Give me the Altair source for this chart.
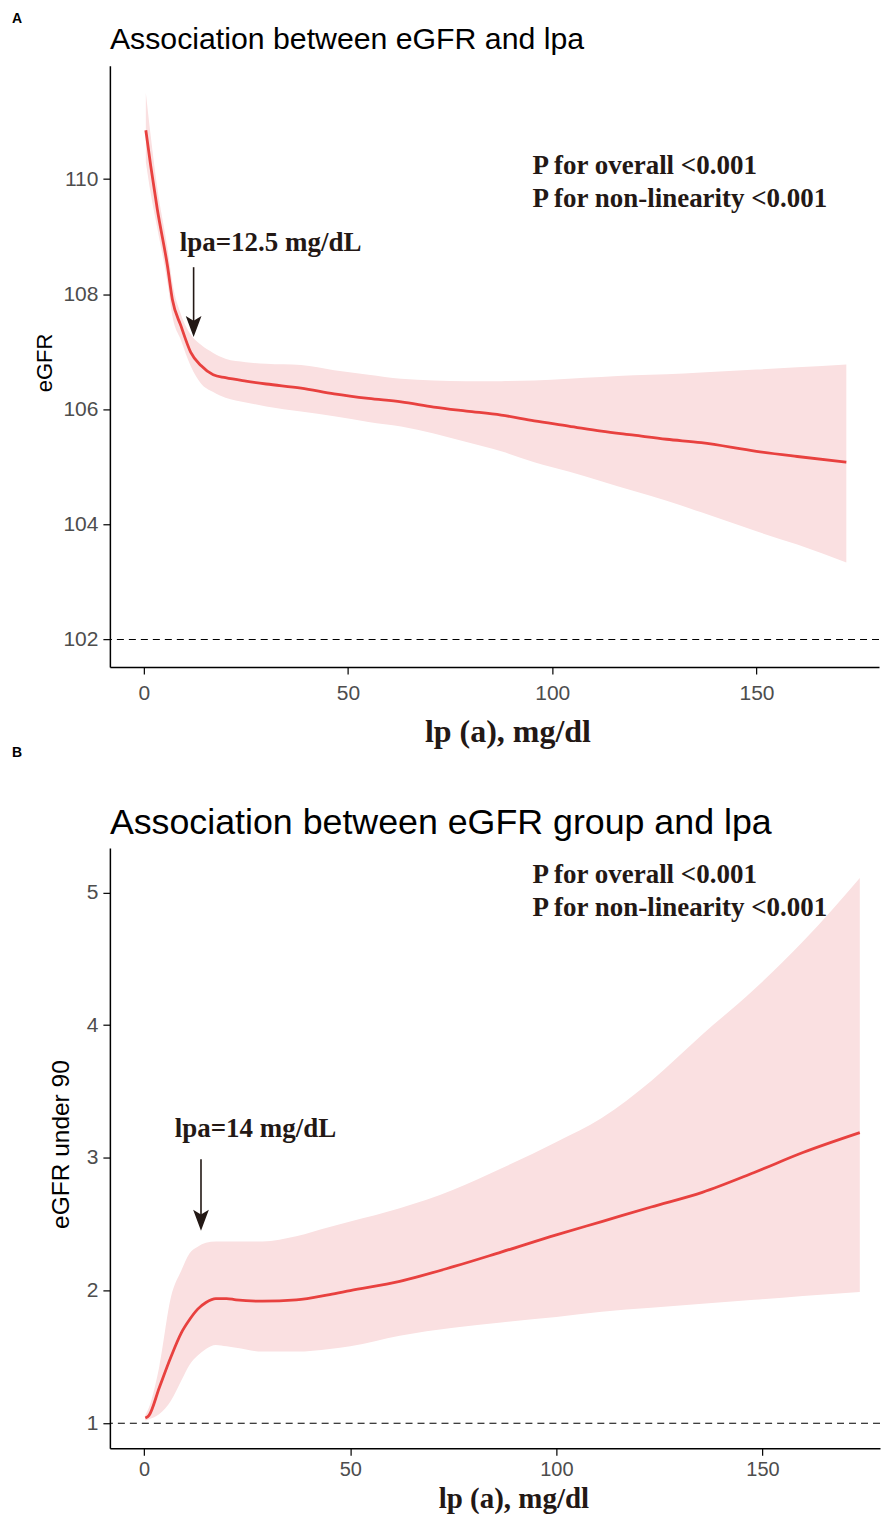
import altair as alt
import pandas as pd

# ---------------- Panel A: eGFR vs lp(a) ----------------
a_x = [0.5, 1.7, 3.3, 5.8, 7.0, 9.1, 11.5, 14, 17, 20, 25, 30, 38.5, 46.6, 55, 63, 71, 79,
       87.5, 95.6, 104, 112, 120, 128, 136.5, 150, 160, 172]
a_fit = [110.85, 110.23, 109.48, 108.49, 107.91, 107.45, 106.99, 106.76, 106.60, 106.55, 106.49,
         106.44, 106.37, 106.27, 106.19, 106.13, 106.04, 105.97, 105.90, 105.80, 105.71, 105.62,
         105.55, 105.48, 105.42, 105.27, 105.18, 105.08]
a_hi = [111.5, 110.75, 109.85, 108.8, 108.2, 107.65, 107.3, 107.12, 106.98, 106.88, 106.82,
        106.79, 106.77, 106.68, 106.6, 106.53, 106.5, 106.49, 106.49, 106.5, 106.53, 106.56,
        106.59, 106.61, 106.64, 106.69, 106.73, 106.78]
a_lo = [110.3, 109.75, 109.15, 108.2, 107.62, 107.2, 106.75, 106.45, 106.3, 106.2, 106.12,
        106.05, 105.96, 105.88, 105.78, 105.70, 105.58, 105.43, 105.27, 105.08, 104.92, 104.75,
        104.58, 104.41, 104.21, 103.88, 103.65, 103.34]
a_ref = 102
a_xdom = [-8.3, 180.0]
a_ydom = [101.52, 111.97]
a_yticks = [102, 104, 106, 108, 110]
a_arrow = {"x": [12.2], "top": [108.47], "head": [107.44]}

# ---------------- Panel B: eGFR group vs lp(a) ----------------
b_x = [0.3, 1.2, 3.7, 6.5, 9, 11, 13, 15, 17.4, 20, 22.3, 28.7, 36.9, 45, 50, 62, 75, 86.6,
       100, 111, 123, 135.4, 148, 159.8, 173.6]
b_fit = [1.04, 1.06, 1.27, 1.50, 1.68, 1.78, 1.86, 1.91, 1.94, 1.94, 1.93, 1.92, 1.93, 1.97,
         2.00, 2.07, 2.18, 2.29, 2.42, 2.52, 2.63, 2.74, 2.89, 3.04, 3.19]
b_hi = [1.06, 1.12, 1.43, 1.95, 2.15, 2.28, 2.33, 2.36, 2.37, 2.37, 2.37, 2.37, 2.41, 2.48,
        2.52, 2.62, 2.76, 2.92, 3.12, 3.30, 3.58, 3.93, 4.27, 4.63, 5.11]
b_lo = [1.02, 1.03, 1.07, 1.17, 1.32, 1.44, 1.51, 1.56, 1.59, 1.58, 1.57, 1.54, 1.54, 1.56,
        1.58, 1.66, 1.72, 1.76, 1.80, 1.84, 1.87, 1.90, 1.93, 1.96, 1.99]
b_ref = 1
b_xdom = [-8.3, 178.5]
b_ydom = [0.812, 5.336]
b_yticks = [1, 2, 3, 4, 5]
b_arrow = {"x": [13.8], "top": [2.99], "head": [2.53]}

x_ticks = [0, 50, 100, 150]

LINE = "#e8413f"
BAND = "#fae0e1"
INK = "#231815"
SANS = "Liberation Sans, Arial, Helvetica, sans-serif"
SERIF = "Liberation Serif, Times New Roman, serif"
HEAD = "M0,1L-0.75,-1L0,-0.55L0.75,-1Z"


def txt(text, px, py, font, size, weight="normal", color="black", align="left"):
    return alt.Chart(pd.DataFrame({"a": [0]})).mark_text(
        text=text, font=font, fontSize=size, fontWeight=weight, color=color,
        align=align, baseline="alphabetic"
    ).encode(x=alt.value(px), y=alt.value(py))


def panel(x, fit, lo, hi, ref, xdom, ydom, yticks, arrow, w, h,
          ytitle, ytitle_size, ytitle_x, xtitle_x, xtitle_y, xtitle_size, xlab_pad, xlab_size,
          label, title, title_size, title_y, label_y,
          lpa_text, lpa_pos, p_pos):
    df = pd.DataFrame({"x": x, "fit": fit, "lo": lo, "hi": hi})
    xs = alt.Scale(domain=xdom, nice=False, zero=False)
    ys = alt.Scale(domain=ydom, nice=False, zero=False)
    xaxis = alt.Axis(values=x_ticks, format="d", title="lp (a), mg/dl", titleFont=SERIF,
                     titleFontWeight="bold", titleFontSize=xtitle_size, titleColor=INK,
                     titleX=xtitle_x, titleY=xtitle_y, titleBaseline="alphabetic",
                     labelPadding=xlab_pad, labelFontSize=xlab_size)
    yaxis = alt.Axis(values=yticks, format="d", title=ytitle, titleFont=SANS,
                     titleFontWeight="normal", titleFontSize=ytitle_size, titleColor="black",
                     titleX=ytitle_x, titleY=h / 2 - 4, titleBaseline="middle", titleAngle=270,
                     labelPadding=5)
    band = alt.Chart(df).mark_area(color=BAND, opacity=1, interpolate="monotone").encode(
        x=alt.X("x:Q", scale=xs, axis=xaxis),
        y=alt.Y("lo:Q", scale=ys, axis=yaxis),
        y2="hi:Q",
    )
    line = alt.Chart(df).mark_line(color=LINE, strokeWidth=2.8, interpolate="monotone").encode(
        x="x:Q", y="fit:Q")
    rule = alt.Chart(pd.DataFrame({"r": [ref]})).mark_rule(
        color="black", strokeDash=[7, 5], strokeWidth=1.1
    ).encode(y="r:Q")
    adf = pd.DataFrame(arrow)
    shaft = alt.Chart(adf).mark_rule(color=INK, strokeWidth=1.6).encode(
        x="x:Q", y="top:Q", y2="head:Q")
    head = alt.Chart(adf).mark_point(shape=HEAD, size=440, filled=True, color=INK,
                                     opacity=1, strokeWidth=0).encode(x="x:Q", y="head:Q")
    layers = [band, line, rule, shaft, head,
              txt(label, -98, label_y, SANS, 14, "bold"),
              txt(title, 0, title_y, SANS, title_size),
              txt(lpa_text, lpa_pos[0], lpa_pos[1], SERIF, 27, "bold", INK),
              txt("P for overall <0.001", p_pos[0], p_pos[1], SERIF, 27, "bold", INK),
              txt("P for non-linearity <0.001", p_pos[0], p_pos[1] + 33, SERIF, 27, "bold", INK)]
    return alt.layer(*layers).properties(width=w, height=h)


pa = panel(a_x, a_fit, a_lo, a_hi, a_ref, a_xdom, a_ydom, a_yticks, a_arrow, 770, 602,
           "eGFR", 22, -65, 398, 74, 32, 8, 21,
           "A", "Association between eGFR and lpa", 30.3, -17, -43,
           "lpa=12.5 mg/dL", (70, 185), (423, 108))
pb = panel(b_x, b_fit, b_lo, b_hi, b_ref, b_xdom, b_ydom, b_yticks, b_arrow, 771, 601,
           "eGFR under 90", 24.5, -48, 404, 59, 29, 4, 20,
           "B", "Association between eGFR group and lpa", 35.8, -14, -91,
           "lpa=14 mg/dL", (65, 289), (423, 35))

chart = alt.vconcat(pa, pb, spacing=181, bounds="flush").properties(
    padding={"left": 4, "top": 3, "right": 0, "bottom": 0}
).configure_view(stroke=None).configure_axis(
    grid=False, domainColor="black", domainWidth=1.5, tickColor="black", tickWidth=1.2,
    tickSize=7, labelFont=SANS, labelFontSize=21, labelColor="#4d4d4d"
)

chart.save("out.html", embed_options={"renderer": "svg", "actions": False})
